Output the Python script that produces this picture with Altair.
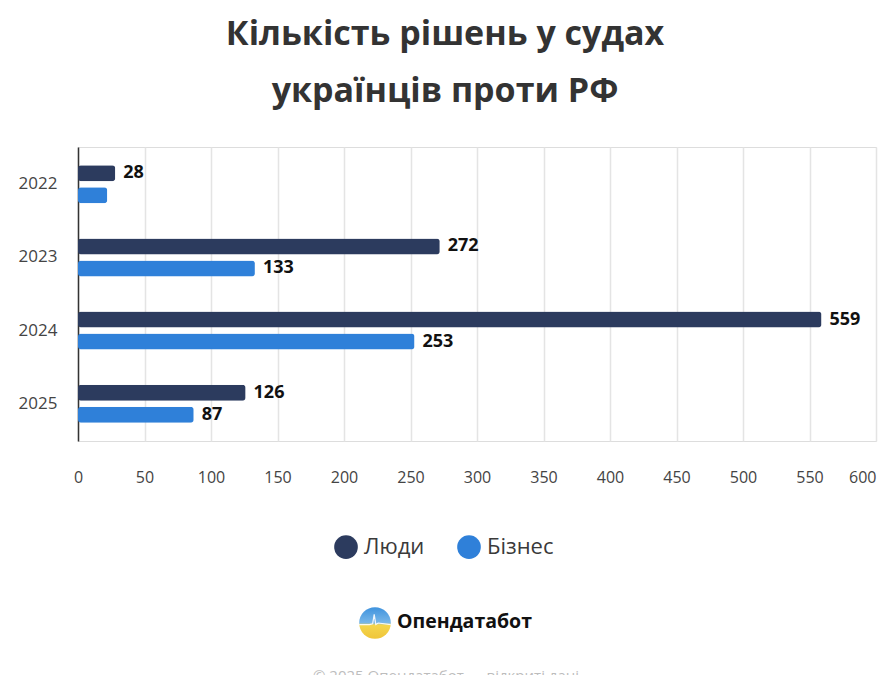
import altair as alt
import pandas as pd

years = ["2022", "2023", "2024", "2025"]
series = ["Люди", "Бізнес"]
people = [28, 272, 559, 126]
business = [22, 133, 253, 87]
business_label_shown = [False, True, True, True]
x_ticks = [0, 50, 100, 150, 200, 250, 300, 350, 400, 450, 500, 550, 600]
colors = ["#2c3b5e", "#2f80d9"]

title_lines = ["Кількість рішень у судах", "українців проти РФ"]
brand = "Опендатабот"
footer = "© 2025 Опендатабот — відкриті дані"

FONT = "Open Sans"

rows = []
for i, y in enumerate(years):
    rows.append({"year": y, "series": series[0], "value": people[i], "show": True})
    rows.append({"year": y, "series": series[1], "value": business[i], "show": business_label_shown[i]})
df = pd.DataFrame(rows)

y_enc = alt.Y("year:N", sort=years, title=None,
              scale=alt.Scale(paddingInner=0.48, paddingOuter=0.25),
              axis=alt.Axis(labelFontSize=17, labelColor="#444", labelFont=FONT,
                            labelPadding=21, ticks=False, domainColor="#333",
                            domainWidth=1.5, grid=False))
yoff = alt.YOffset("series:N", sort=series, scale=alt.Scale(paddingInner=0.27, paddingOuter=0))
x_enc = alt.X("value:Q", title=None,
              scale=alt.Scale(domain=[0, 600], nice=False),
              axis=alt.Axis(values=x_ticks, labelFontSize=16, labelColor="#444", labelFont=FONT,
                            labelPadding=28, ticks=False, domain=False,
                            gridColor="#e4e4e4", gridWidth=1.5,
                            labelAlign=alt.ExprRef(expr="datum.value == 600 ? 'right' : 'center'"),
                            labelFlush=False))

bars = alt.Chart(df).mark_bar(cornerRadius=3).encode(
    y=y_enc, yOffset=yoff, x=x_enc,
    color=alt.Color("series:N", sort=series,
                    scale=alt.Scale(domain=series, range=colors),
                    legend=alt.Legend(title=None, orient="none", direction="horizontal",
                                      legendX=256, legendY=388, symbolType="circle",
                                      symbolSize=560, symbolStrokeWidth=0, symbolOpacity=1,
                                      labelFontSize=22, labelColor="#3a3a3a", labelFont=FONT,
                                      labelOffset=6, columnPadding=32)),
)

labels = alt.Chart(df).transform_filter("datum.show").mark_text(
    align="left", baseline="middle", dx=8, fontSize=18, fontWeight="bold",
    color="#111", font=FONT
).encode(y=alt.Y("year:N", sort=years), yOffset=alt.YOffset("series:N", sort=series),
         x="value:Q", text="value:Q")

one = pd.DataFrame({"brand": [brand], "footer": [footer]})

logo = alt.Chart(one).mark_point(
    shape="circle", filled=True, size=1000, opacity=1, strokeWidth=0,
    fill=alt.Gradient(gradient="linear", x1=0, y1=0, x2=0, y2=1,
                      stops=[alt.GradientStop(offset=0, color="#3f93de"),
                             alt.GradientStop(offset=0.5, color="#79b7e8"),
                             alt.GradientStop(offset=0.56, color="#f4d64c"),
                             alt.GradientStop(offset=1, color="#efc53a")])
).encode(x=alt.value(297), y=alt.value(476))

pulse = alt.Chart(one).mark_point(
    shape="M-1,0.1 L-0.35,0.1 L-0.15,0.05 L-0.05,-0.55 L0.05,0.1 L0.2,0.0 L1,0.1",
    filled=False, size=1000, stroke="#ffffff", strokeWidth=1.2, opacity=0.9
).encode(x=alt.value(297), y=alt.value(476))

brand_text = alt.Chart(one).mark_text(
    align="left", baseline="middle", fontSize=19.5, fontWeight="bold", color="#111", font=FONT
).encode(x=alt.value(319), y=alt.value(475), text="brand:N")

footer_text = alt.Chart(one).mark_text(
    align="center", baseline="middle", fontSize=15, color="#bdbdbd", font=FONT
).encode(x=alt.value(368), y=alt.value(529), text="footer:N")

chart = alt.layer(bars, labels, logo, pulse, brand_text, footer_text).properties(
    width=798, height=294,
    title=alt.TitleParams(text=title_lines, fontSize=34, fontWeight="bold", color="#333",
                          font=FONT, lineHeight=57, anchor="middle", dx=-32, offset=11,
                          baseline="alphabetic"),
    autosize=alt.AutoSizeParams(type="none"),
    padding={"left": 70, "top": 139, "right": 6, "bottom": 234},
).configure_view(stroke=None).configure(background="white")

chart.save("out.html", embed_options={"renderer": "svg", "actions": False})
